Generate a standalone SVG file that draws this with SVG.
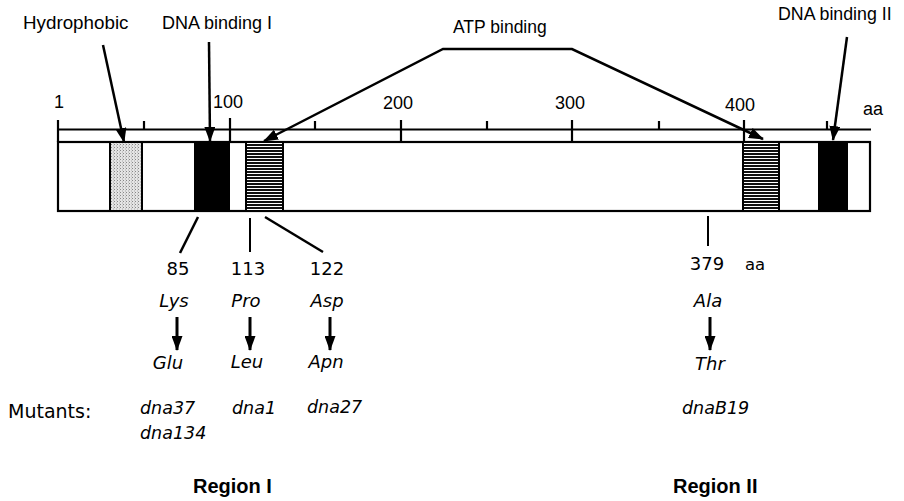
<svg xmlns="http://www.w3.org/2000/svg" width="904" height="501" viewBox="0 0 904 501">
<style>
.lbl{font-family:"Liberation Sans",Arial,sans-serif;font-size:18px;fill:#000}
.num{font-family:"Liberation Sans",Arial,sans-serif;font-size:18px;fill:#000}
.gen{font-family:"DejaVu Sans",Verdana,sans-serif;font-size:18px;fill:#000}
.it{font-family:"DejaVu Sans",Verdana,sans-serif;font-size:18px;font-style:italic;fill:#000}
.reg{font-family:"Liberation Sans",Arial,sans-serif;font-size:20px;font-weight:bold;fill:#000}
.ln{stroke:#000;stroke-width:2.5;fill:none}
.tk{stroke:#000;stroke-width:2.2;fill:none}
.seg{stroke:#000;stroke-width:2}
</style>
<defs>
<marker id="ah" markerUnits="userSpaceOnUse" viewBox="0 0 15 11" markerWidth="15" markerHeight="11" refX="14" refY="5.5" orient="auto-start-reverse">
<path d="M0,0 L15,5.5 L0,11 z" fill="#000"/>
</marker>
<pattern id="hatch" patternUnits="userSpaceOnUse" width="8" height="3">
<rect width="8" height="3" fill="#fff"/>
<rect width="8" height="2" fill="#111"/>
</pattern>
<pattern id="stip" patternUnits="userSpaceOnUse" width="3" height="3">
<rect width="3" height="3" fill="#e4e4e4"/>
<rect x="0" y="0" width="1" height="1" fill="#888"/>
<rect x="2" y="1.5" width="1" height="1" fill="#aaa"/>
</pattern>
</defs>
<rect width="904" height="501" fill="#fff"/>

<g id="ruler">
<line class="tk" x1="58" y1="129.5" x2="871" y2="129.5"/>
<line class="tk" x1="58" y1="120" x2="58" y2="142"/>
<line class="tk" x1="144" y1="121" x2="144" y2="130"/>
<line class="tk" x1="230" y1="118" x2="230" y2="142"/>
<line class="tk" x1="315" y1="121" x2="315" y2="130"/>
<line class="tk" x1="401" y1="120" x2="401" y2="142"/>
<line class="tk" x1="487" y1="121" x2="487" y2="130"/>
<line class="tk" x1="572" y1="120" x2="572" y2="142"/>
<line class="tk" x1="659" y1="121" x2="659" y2="130"/>
<line class="tk" x1="744" y1="120" x2="744" y2="142"/>
<line class="tk" x1="827" y1="121" x2="827" y2="130"/>
<text class="num" x="59" y="108" text-anchor="middle">1</text>
<text class="num" x="213" y="108">100</text>
<text class="num" x="383" y="109">200</text>
<text class="num" x="555" y="109">300</text>
<text class="num" x="725" y="111">400</text>
<text class="num" x="863" y="115">aa</text>
</g>

<g id="protein">
<rect x="58" y="142" width="812" height="69" fill="#fff" stroke="#000" stroke-width="2.2"/>
<rect x="110" y="142" width="32" height="69" fill="url(#stip)" class="seg"/>
<rect x="195" y="142" width="34" height="69" fill="#000" class="seg"/>
<rect x="246" y="142" width="37" height="69" fill="url(#hatch)" class="seg"/>
<rect x="743" y="142" width="36" height="69" fill="url(#hatch)" class="seg"/>
<rect x="819" y="142" width="28" height="69" fill="#000" class="seg"/>
</g>

<g id="labels-top">
<text class="lbl" x="23" y="29" style="font-size:18.8px">Hydrophobic</text>
<text class="lbl" x="162" y="29">DNA binding I</text>
<text class="lbl" x="453" y="33" style="font-size:17.5px">ATP binding</text>
<text class="lbl" x="778" y="20" style="font-size:17.8px">DNA binding II</text>
</g>

<g id="connectors">
<line class="ln" x1="103" y1="45" x2="124" y2="142" marker-end="url(#ah)"/>
<line class="ln" x1="209" y1="42" x2="210" y2="141" marker-end="url(#ah)"/>
<path class="ln" d="M264,141 L443,49 L572,49 L763,139" marker-start="url(#ah)" marker-end="url(#ah)"/>
<line class="ln" x1="847" y1="37" x2="833" y2="140" marker-end="url(#ah)"/>
<line class="ln" x1="198" y1="217" x2="180" y2="253"/>
<line class="ln" x1="250" y1="218" x2="250" y2="252" style="stroke-width:2"/>
<line class="ln" x1="265" y1="217" x2="323" y2="252"/>
<line class="ln" x1="708" y1="216" x2="708" y2="246" style="stroke-width:2"/>
<line class="ln" x1="177" y1="317" x2="177" y2="350" marker-end="url(#ah)" style="stroke-width:3"/>
<line class="ln" x1="250" y1="317" x2="250" y2="350" marker-end="url(#ah)" style="stroke-width:3"/>
<line class="ln" x1="330" y1="317" x2="330" y2="350" marker-end="url(#ah)" style="stroke-width:3"/>
<line class="ln" x1="710" y1="317" x2="710" y2="350" marker-end="url(#ah)" style="stroke-width:3"/>
</g>

<g id="mut85">
<text class="gen" x="178" y="275" text-anchor="middle">85</text>
<text class="it" x="174" y="307" text-anchor="middle">Lys</text>
<text class="it" x="168" y="369" text-anchor="middle">Glu</text>
<text class="it" x="140" y="414" style="font-size:17.5px">dna37</text>
<text class="it" x="140" y="439" style="font-size:17.5px">dna134</text>
</g>
<g id="mut113">
<text class="gen" x="248" y="275" text-anchor="middle">113</text>
<text class="it" x="246" y="307" text-anchor="middle">Pro</text>
<text class="it" x="247" y="368" text-anchor="middle">Leu</text>
<text class="it" x="232" y="414" style="font-size:17.5px">dna1</text>
</g>
<g id="mut122">
<text class="gen" x="327" y="275" text-anchor="middle">122</text>
<text class="it" x="327" y="307" text-anchor="middle">Asp</text>
<text class="it" x="326" y="368" text-anchor="middle">Apn</text>
<text class="it" x="307" y="413" style="font-size:17.5px">dna27</text>
</g>
<g id="mut379">
<text class="gen" x="707" y="270" text-anchor="middle">379</text>
<text class="gen" x="745" y="270" style="font-size:16.5px">aa</text>
<text class="it" x="708" y="307" text-anchor="middle">Ala</text>
<text class="it" x="710" y="370" text-anchor="middle">Thr</text>
<text class="it" x="682" y="414" style="font-size:17.5px">dnaB19</text>
</g>

<g id="footer">
<text class="gen" x="8" y="418" style="font-size:19px">Mutants:</text>
<text class="reg" x="193" y="493">Region I</text>
<text class="reg" x="673" y="493">Region II</text>
</g>
</svg>
